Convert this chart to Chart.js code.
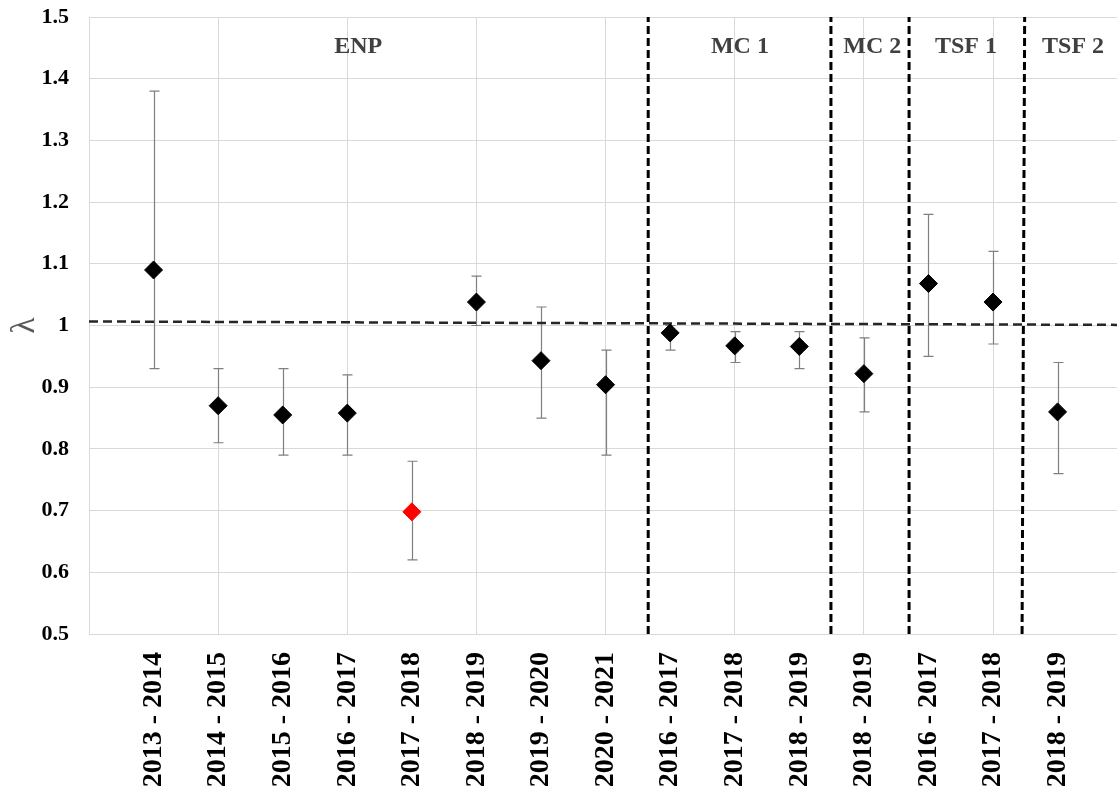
<!DOCTYPE html>
<html>
<head>
<meta charset="utf-8">
<script src="https://cdn.jsdelivr.net/npm/chart.js@4.4.0/dist/chart.umd.min.js"></script>
<style>
  html, body { margin: 0; padding: 0; background: #fff; }
  #wrap { width: 1117px; height: 791px; position: relative; }
</style>
</head>
<body>
<div id="wrap"><canvas id="lambdaChart"></canvas></div>
<script>
// periods on the x axis (one per point, positions 1..15)
const periods = ['2013 - 2014', '2014 - 2015', '2015 - 2016', '2016 - 2017', '2017 - 2018',
    '2018 - 2019', '2019 - 2020', '2020 - 2021', '2016 - 2017', '2017 - 2018',
    '2018 - 2019', '2018 - 2019', '2016 - 2017', '2017 - 2018', '2018 - 2019'];
const lambdaVals = [1.09, 0.87, 0.855, 0.858, 0.698, 1.038, 0.943, 0.904, 0.988, 0.967, 0.966, 0.922, 1.068, 1.038, 0.86];
const lowerCI = [0.93, 0.81, 0.79, 0.79, 0.62, 1.0, 0.85, 0.79, 0.96, 0.94, 0.93, 0.86, 0.95, 0.97, 0.76];
const upperCI = [1.38, 0.93, 0.93, 0.92, 0.78, 1.08, 1.03, 0.96, 1.0, 0.99, 0.99, 0.98, 1.18, 1.12, 0.94];

// site groups and the dashed separators between them
const groupNames = ['ENP', 'MC 1', 'MC 2', 'TSF 1', 'TSF 2'];
const groupX = [4.17, 10.08, 12.13, 13.58, 15.24];
const groupY = 1.452;
const dividerTop = [8.66, 11.49, 12.70, 14.49];
const dividerBottom = [8.66, 11.49, 12.70, 14.45];

// hand drawn lambda = 1 reference line
const refX = [0, 15.92];
const refY = [1.0065, 1.001];

const yTicks = [0.5, 0.6, 0.7, 0.8, 0.9, 1, 1.1, 1.2, 1.3, 1.4, 1.5];
const xMax = 15.92;

const serif = "'Liberation Serif', 'Times New Roman', serif";

const errorBars = {
    id: 'errorBars',
    beforeDatasetsDraw(chart) {
        const ctx = chart.ctx;
        const xs = chart.scales.x, ys = chart.scales.y;
        ctx.save();
        ctx.strokeStyle = '#7f7f7f';
        ctx.lineWidth = 1.2;
        lambdaVals.forEach((v, i) => {
            const px = Math.round(xs.getPixelForValue(i + 1)) + 0.5;
            const top = ys.getPixelForValue(upperCI[i]);
            const bot = ys.getPixelForValue(lowerCI[i]);
            ctx.beginPath();
            ctx.moveTo(px, top); ctx.lineTo(px, bot);
            ctx.moveTo(px - 5, top); ctx.lineTo(px + 5, top);
            ctx.moveTo(px - 5, bot); ctx.lineTo(px + 5, bot);
            ctx.stroke();
        });
        ctx.restore();
    }
};

const groupLabels = {
    id: 'groupLabels',
    afterDatasetsDraw(chart) {
        const ctx = chart.ctx;
        const xs = chart.scales.x, ys = chart.scales.y;
        ctx.save();
        ctx.font = 'bold 24px ' + serif;
        ctx.fillStyle = '#404040';
        ctx.textAlign = 'center';
        ctx.textBaseline = 'middle';
        groupNames.forEach((name, i) => {
            ctx.fillText(name, xs.getPixelForValue(groupX[i]), ys.getPixelForValue(groupY));
        });
        ctx.restore();
    }
};

const datasets = [{
    type: 'scatter',
    label: 'lambda',
    data: lambdaVals.map((v, i) => ({ x: i + 1, y: v })),
    pointStyle: 'rectRot',
    pointRadius: 9,
    pointBackgroundColor: lambdaVals.map((v, i) => i === 4 ? '#ff0000' : '#000000'),
    pointBorderColor: lambdaVals.map((v, i) => i === 4 ? '#ff0000' : '#000000'),
    pointBorderWidth: 1
}, {
    type: 'line',
    label: 'ref',
    data: refX.map((x, i) => ({ x: x, y: refY[i] })),
    borderColor: '#262626',
    borderWidth: 2.5,
    borderDash: [9, 5],
    pointRadius: 0,
    fill: false
}];

dividerTop.forEach((xt, i) => {
    datasets.push({
        type: 'line',
        label: 'div' + i,
        data: [{ x: dividerBottom[i], y: 0.5 }, { x: xt, y: 1.5 }],
        borderColor: '#000000',
        borderWidth: 3,
        borderDash: [8, 4],
        pointRadius: 0,
        fill: false
    });
});

const ctx = document.getElementById('lambdaChart').getContext('2d');
const lambdaChart = new Chart(ctx, {
    type: 'scatter',
    data: { datasets: datasets },
    options: {
        responsive: true,
        maintainAspectRatio: false,
        animation: false,
        layout: { autoPadding: false, padding: { top: 17, left: 0, right: 0, bottom: 0 } },
        plugins: {
            legend: { display: false },
            tooltip: { enabled: false }
        },
        scales: {
            x: {
                type: 'linear',
                min: 0,
                max: xMax,
                position: 'bottom',
                afterBuildTicks: (scale) => {
                    scale.ticks = periods.map((p, i) => ({ value: i + 1 }));
                },
                afterFit: (scale) => { scale.height = 157; },
                grid: { display: false, drawTicks: false },
                border: { color: '#d9d9d9', width: 1 },
                ticks: {
                    autoSkip: false,
                    minRotation: 90,
                    maxRotation: 90,
                    padding: 18,
                    color: '#000000',
                    font: { family: serif, size: 28, weight: 'bold' },
                    callback: (v) => periods[v - 1]
                }
            },
            xGrid: {
                type: 'linear',
                min: 0,
                max: xMax,
                position: 'bottom',
                afterBuildTicks: (scale) => {
                    scale.ticks = [0, 2, 4, 6, 8, 10, 12, 14].map(v => ({ value: v }));
                },
                afterFit: (scale) => { scale.height = 0; },
                grid: { color: '#d9d9d9', lineWidth: 1, drawTicks: false },
                border: { display: false },
                ticks: { display: false }
            },
            y: {
                min: 0.5,
                max: 1.5,
                afterBuildTicks: (scale) => {
                    scale.ticks = yTicks.map(v => ({ value: v }));
                },
                afterFit: (scale) => { scale.width = 89; },
                grid: { color: '#d9d9d9', lineWidth: 1, drawTicks: true, tickLength: 20, tickColor: 'rgba(0,0,0,0)' },
                border: { color: '#d9d9d9', width: 1 },
                title: {
                    display: true,
                    text: 'λ',
                    color: '#595959',
                    padding: { top: 5, bottom: 0 },
                    font: { family: serif, size: 34 }
                },
                ticks: {
                    padding: 0,
                    color: '#000000',
                    font: { family: serif, size: 22, weight: 'bold' },
                    callback: (v) => String(Number(v.toFixed(1)))
                }
            }
        }
    },
    plugins: [errorBars, groupLabels]
});
</script>
</body>
</html>
